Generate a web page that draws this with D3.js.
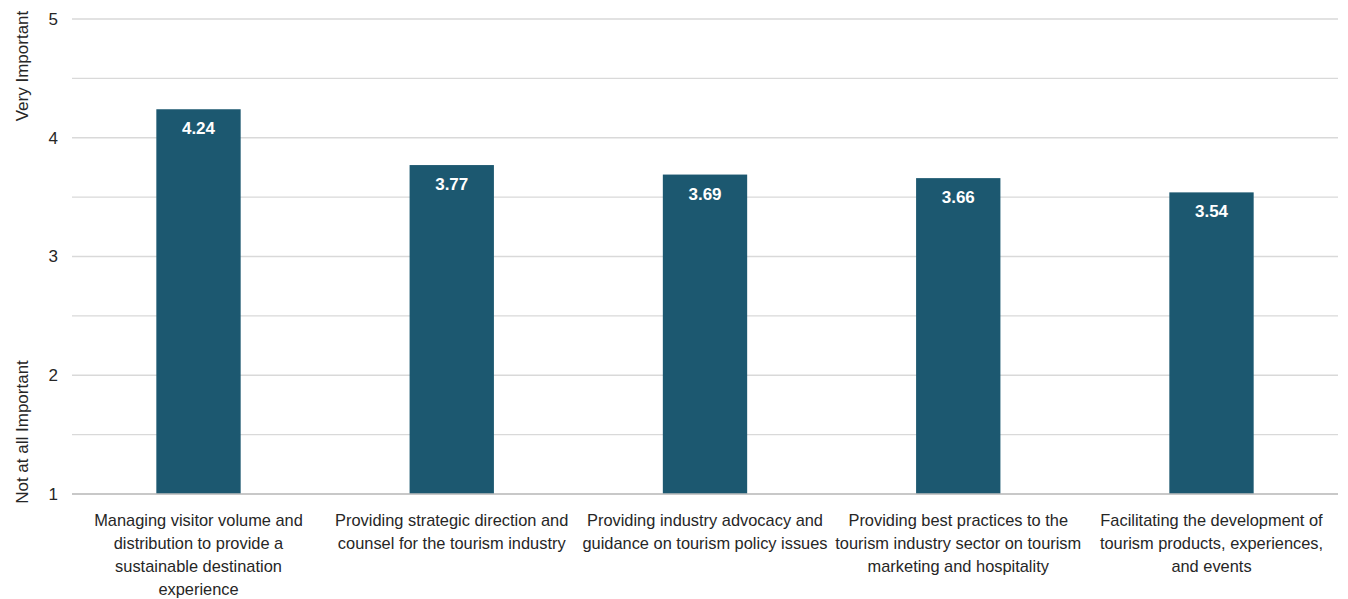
<!DOCTYPE html>
<html>
<head>
<meta charset="utf-8">
<script src="https://cdn.jsdelivr.net/npm/d3@7"></script>
<style>
  html, body { margin: 0; padding: 0; background: #ffffff; }
  svg { display: block; }
  text { font-family: "Liberation Sans Narrow", "Arial Narrow", "Liberation Sans", Arial, sans-serif; fill: #262626; }
</style>
</head>
<body>
<svg id="chart" width="1348" height="599"></svg>
<script>
// Mean importance rating (1 = Not at all Important, 5 = Very Important)
const categories = [
  ["Managing visitor volume and", "distribution to provide a", "sustainable destination", "experience"],
  ["Providing strategic direction and", "counsel for the tourism industry"],
  ["Providing industry advocacy and", "guidance on tourism policy issues"],
  ["Providing best practices to the", "tourism industry sector on tourism", "marketing and hospitality"],
  ["Facilitating the development of", "tourism products, experiences,", "and events"]
];
const values = [4.24, 3.77, 3.69, 3.66, 3.54];
const yTicks = [1, 2, 3, 4, 5];
const gridLines = [1, 1.5, 2, 2.5, 3, 3.5, 4, 4.5, 5];
const axisTitleTop = "Very Important";
const axisTitleBottom = "Not at all Important";

const svg = d3.select("#chart");
const margin = { left: 72, right: 10, top: 19, bottom: 105 };
const W = 1348, H = 599;

const x = d3.scaleBand()
  .domain(d3.range(values.length))
  .range([margin.left, W - margin.right])
  .paddingInner(0.667)
  .paddingOuter(0.333);

const y = d3.scaleLinear().domain([1, 5]).range([H - margin.bottom, margin.top]);

// gridlines
svg.append("g").selectAll("line").data(gridLines).join("line")
  .attr("x1", margin.left).attr("x2", W - margin.right)
  .attr("y1", d => y(d)).attr("y2", d => y(d))
  .attr("stroke", "#d9d9d9").attr("stroke-width", 1.3);

// y axis labels
const yAxis = d3.axisLeft(y).tickValues(yTicks).tickFormat(d3.format("d")).tickSize(0).tickPadding(14);
const yg = svg.append("g").attr("transform", `translate(${margin.left},0)`).call(yAxis);
yg.select(".domain").remove();
yg.selectAll("text").attr("font-size", 17).attr("fill", "#262626")
  .style("font-family", "'Liberation Sans Narrow', 'Liberation Sans', Arial, sans-serif");

// bars
svg.append("g").selectAll("rect").data(values).join("rect")
  .attr("x", (d, i) => x(i))
  .attr("width", x.bandwidth())
  .attr("y", d => y(d))
  .attr("height", d => y(1) - y(d))
  .attr("fill", "#1c5870");

// value labels
svg.append("g").selectAll("text").data(values).join("text")
  .attr("x", (d, i) => x(i) + x.bandwidth() / 2)
  .attr("y", d => y(d) + 25)
  .attr("text-anchor", "middle")
  .attr("font-size", 17).attr("font-weight", "bold")
  .style("fill", "#ffffff")
  .text(d => d.toFixed(2));

// baseline
svg.append("line")
  .attr("x1", margin.left).attr("x2", W - margin.right)
  .attr("y1", y(1)).attr("y2", y(1))
  .attr("stroke", "#bfbfbf").attr("stroke-width", 1.3);

// category labels
const catG = svg.append("g").selectAll("text").data(categories).join("text")
  .attr("text-anchor", "middle")
  .attr("font-size", 16.4);
catG.each(function(lines, i) {
  const t = d3.select(this);
  lines.forEach((ln, k) => {
    t.append("tspan")
      .attr("x", x(i) + x.bandwidth() / 2)
      .attr("y", y(1) + 32 + k * 23)
      .text(ln);
  });
});

// axis titles
svg.append("text")
  .attr("transform", `translate(28, ${66}) rotate(-90)`)
  .attr("text-anchor", "middle").attr("font-size", 17)
  .text(axisTitleTop);
svg.append("text")
  .attr("transform", `translate(28, ${432}) rotate(-90)`)
  .attr("text-anchor", "middle").attr("font-size", 17)
  .text(axisTitleBottom);
</script>
</body>
</html>
